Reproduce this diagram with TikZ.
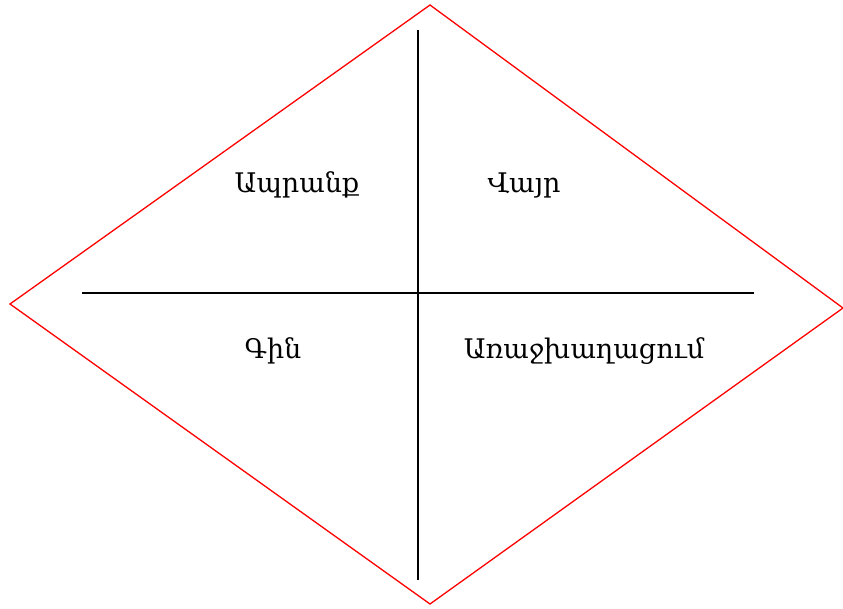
\documentclass[tikz,border=0pt]{standalone}
\usepackage{fontspec}
\setmainfont{DejaVu Serif}
\begin{document}
\begin{tikzpicture}[x=1pt,y=-1pt,
  lbl/.style={inner sep=0pt,font=\fontsize{27}{32}\selectfont},
  edge/.style={red,line width=1.3pt},
  axis/.style={black,line width=1.3pt}]
\useasboundingbox (0,0) rectangle (843,608);
\coordinate (T) at (430,5);
\coordinate (R) at (843,308);
\coordinate (B) at (430,604);
\coordinate (L) at (10,304);
\draw[edge] (T) -- (R) -- (B) -- (L) -- cycle;
\coordinate (vt) at (418,30);
\coordinate (vb) at (418,580);
\coordinate (hl) at (82,293);
\coordinate (hr) at (754,293);
\draw[axis] (vt) -- (vb);
\draw[axis] (hl) -- (hr);
\node[lbl] (p1) at (297,185) {Ապրանք};
\node[lbl] (p2) at (524,185) {Վայր};
\node[lbl] (p3) at (273,351) {Գին};
\node[lbl] (p4) at (584,351) {Առաջխաղացում};
\end{tikzpicture}
\end{document}
